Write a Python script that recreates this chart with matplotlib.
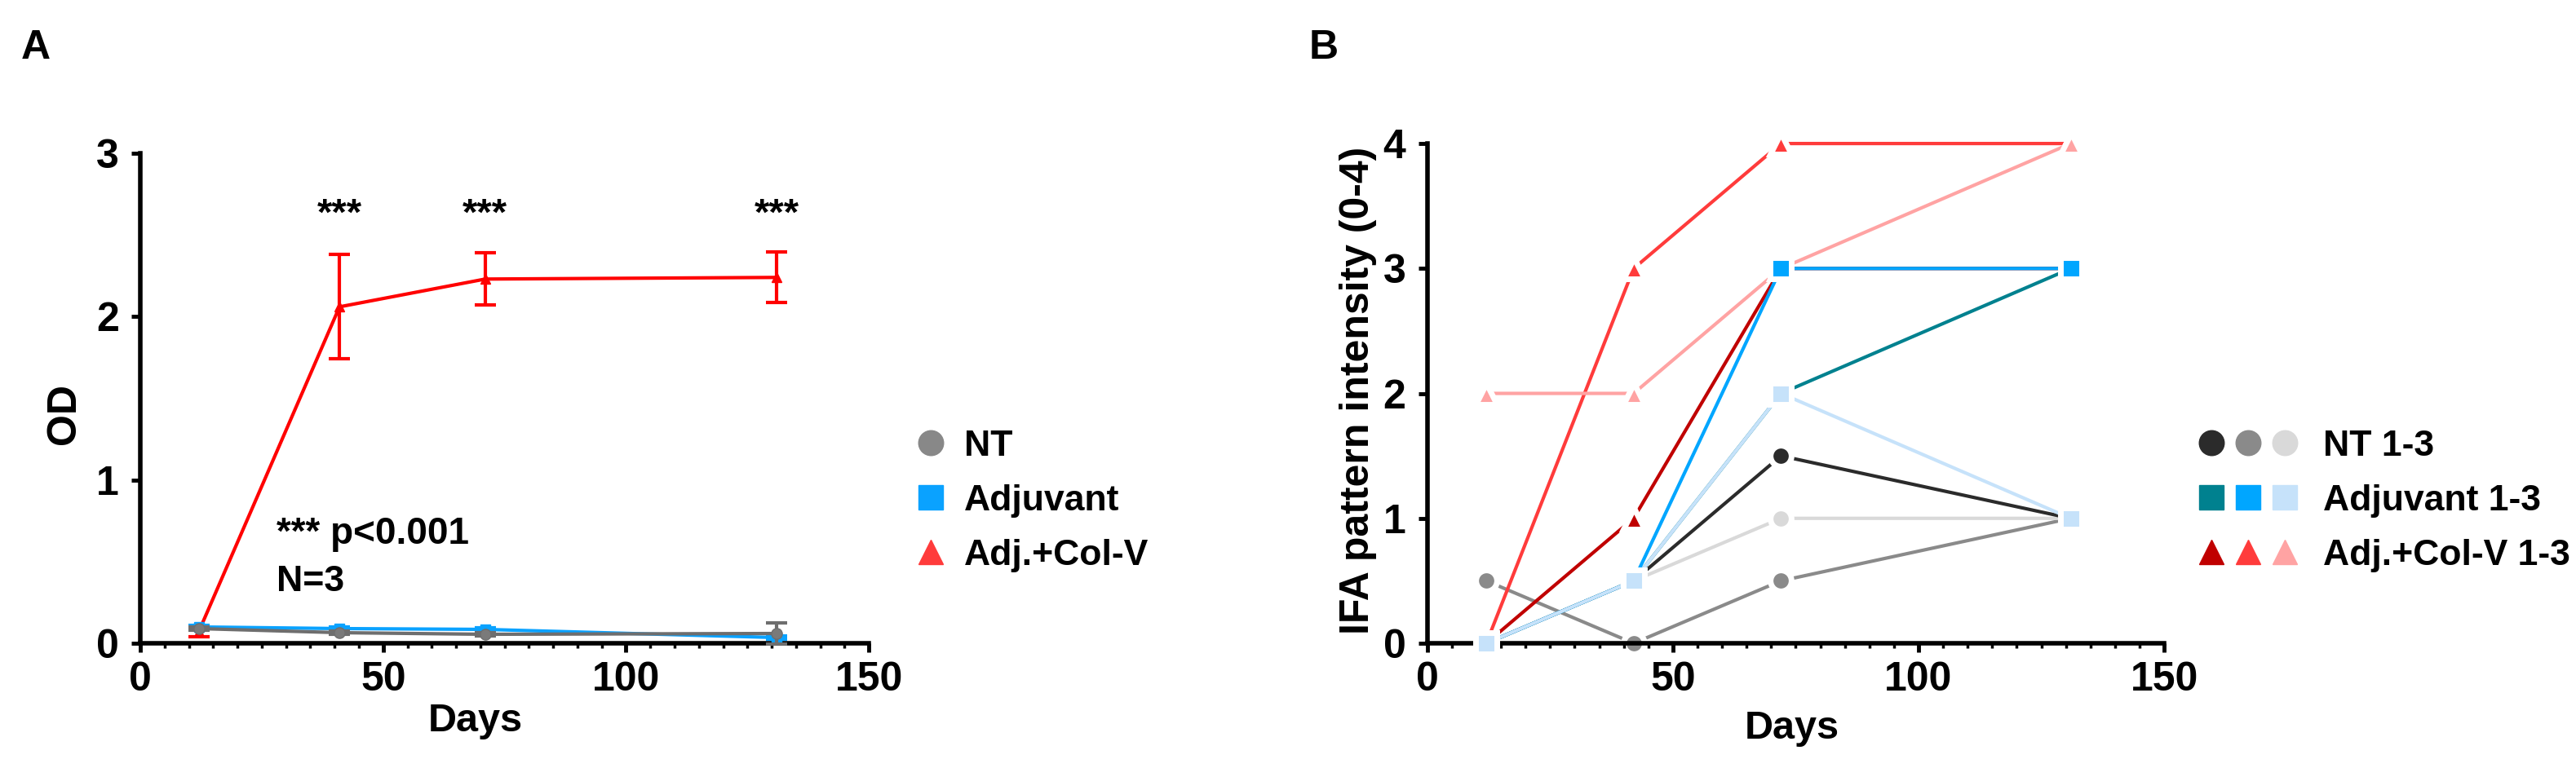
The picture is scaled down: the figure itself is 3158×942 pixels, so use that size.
import matplotlib
matplotlib.use('Agg')
import matplotlib.pyplot as plt
from matplotlib.lines import Line2D
from matplotlib.legend_handler import HandlerTuple
from matplotlib.ticker import MultipleLocator

plt.rcParams['font.family'] = ['Liberation Sans', 'DejaVu Sans']
plt.rcParams['font.weight'] = 'bold'

# ---- panel A: ELISA OD (mean +/- error) ----
days_a = [12, 41, 71, 131]
nt_mean = [0.09, 0.065, 0.055, 0.06]
nt_err = [0.01, 0.01, 0.01, 0.065]
adj_mean = [0.10, 0.09, 0.085, 0.035]
adj_err = [0.01, 0.01, 0.01, 0.01]
colv_mean = [0.07, 2.06, 2.23, 2.24]
colv_err = [0.03, 0.32, 0.16, 0.155]
star_days = [41, 71, 131]
star_y = [2.62, 2.62, 2.62]
labels_a = ['NT', 'Adjuvant', 'Adj.+Col-V']

# ---- panel B: IFA scores per animal ----
days_b = [12, 42, 72, 131]
nt_1 = [0, 0.5, 1.5, 1]
nt_2 = [0.5, 0, 0.5, 1]
nt_3 = [0, 0.5, 1, 1]
adj_1 = [0, 0.5, 2, 3]
adj_2 = [0, 0.5, 3, 3]
adj_3 = [0, 0.5, 2, 1]
colv_1 = [0, 1, 3, 3]
colv_2 = [0, 3, 4, 4]
colv_3 = [2, 2, 3, 4]
labels_b = ['NT 1-3', 'Adjuvant 1-3', 'Adj.+Col-V 1-3']

GRAY = '#6e6e6e'
BLUE = '#0aa2ff'
RED = '#ff0000'

fig = plt.figure(figsize=(31.58, 9.42), dpi=100)
axA = fig.add_axes([0.0545, 0.1624, 0.2828, 0.638])
axB = fig.add_axes([0.5541, 0.1624, 0.286, 0.6507])


def style_axis(ax, ymax):
    ax.set_xlim(0, 150)
    ax.set_ylim(0, ymax)
    for s in ['top', 'right']:
        ax.spines[s].set_visible(False)
    for s in ['left', 'bottom']:
        ax.spines[s].set_linewidth(4)
    ax.xaxis.set_major_locator(MultipleLocator(50))
    ax.xaxis.set_minor_locator(MultipleLocator(5))
    ax.yaxis.set_major_locator(MultipleLocator(1))
    ax.tick_params(axis='both', which='major', direction='out', length=8,
                   width=3.5, labelsize=36)
    ax.tick_params(axis='x', which='major', pad=8)
    ax.tick_params(axis='y', which='major', pad=11)
    ax.tick_params(axis='x', which='minor', direction='out', length=4.5, width=2.5)
    for t in ax.get_xticklabels() + ax.get_yticklabels():
        t.set_fontweight('bold')


# panel A
style_axis(axA, 3)
axA.errorbar(days_a, colv_mean, yerr=colv_err, color=RED, lw=3, marker='^', ms=8,
             capsize=9.5, capthick=3, elinewidth=3, clip_on=False, zorder=3)
axA.errorbar(days_a, adj_mean, yerr=adj_err, color=BLUE, lw=3, marker='s', ms=9,
             capsize=9.5, capthick=3, elinewidth=3, clip_on=False, zorder=4)
axA.errorbar(days_a, nt_mean, yerr=nt_err, color=GRAY, lw=3, marker='o', ms=9.5,
             mfc='#7a7a7a', capsize=9.5, capthick=3, elinewidth=3, clip_on=False, zorder=5)
for d, y in zip(star_days, star_y):
    axA.text(d, y, '***', ha='center', va='center', fontsize=34, fontweight='bold')
axA.text(28, 0.61, '*** p<0.001', ha='left', va='baseline', fontsize=33, fontweight='bold')
axA.text(28, 0.32, 'N=3', ha='left', va='baseline', fontsize=32, fontweight='bold')
axA.set_xlabel('Days', fontsize=35, fontweight='bold')
axA.set_ylabel('OD', fontsize=36, fontweight='bold')
axA.xaxis.set_label_coords(0.46, -0.121)
axA.yaxis.set_label_coords(-0.078, 0.468)

handles_a = [
    Line2D([], [], ls='none', marker='o', ms=22, color='#888888'),
    Line2D([], [], ls='none', marker='s', ms=21, color='#0aa2ff'),
    Line2D([], [], ls='none', marker='^', ms=22, color='#ff3b3b'),
]
fig.legend(handles_a, labels_a, loc='upper left', bbox_to_anchor=(0.3559, 0.4406),
           frameon=False, handlelength=0.75, handletextpad=0.55,
           labelspacing=0.58, borderpad=0, borderaxespad=0,
           prop={'weight': 'bold', 'size': 32})

# panel B
style_axis(axB, 4)
series_b = [
    (nt_2, 'o', '#8a8a8a', 1),
    (nt_3, 'o', '#d9d9d9', 1),
    (nt_1, 'o', '#2b2b2b', 2),
    (colv_2, '^', '#ff3b3b', 3),
    (colv_1, '^', '#c00000', 4),
    (colv_3, '^', '#ffa3a3', 5),
    (adj_1, 's', '#00818f', 6),
    (adj_2, 's', '#00a6ff', 7),
    (adj_3, 's', '#c6e2fa', 8),
]
for vals, mk, col, z in series_b:
    axB.plot(days_b, vals, color=col, lw=3, marker=mk, ms=18.5, mec='white', mew=5,
             mfc=col, clip_on=False, zorder=z)
axB.set_xlabel('Days', fontsize=35, fontweight='bold')
axB.set_ylabel('IFA pattern intensity (0-4)', fontsize=36, fontweight='bold')
axB.xaxis.set_label_coords(0.495, -0.134)
axB.yaxis.set_label_coords(-0.069, 0.506)

nt_cols = ['#2b2b2b', '#8a8a8a', '#d9d9d9']
adj_cols = ['#00818f', '#00a6ff', '#c6e2fa']
colv_cols = ['#c00000', '#ff3b3b', '#ffa3a3']
handles_b = [
    tuple(Line2D([], [], ls='none', marker='o', ms=22, color=c) for c in nt_cols),
    tuple(Line2D([], [], ls='none', marker='s', ms=21, color=c) for c in adj_cols),
    tuple(Line2D([], [], ls='none', marker='^', ms=22, color=c) for c in colv_cols),
]
fig.legend(handles_b, labels_b, loc='upper left', bbox_to_anchor=(0.8534, 0.4406),
           frameon=False, handlelength=2.75, handletextpad=0.7,
           labelspacing=0.58, borderpad=0, borderaxespad=0,
           prop={'weight': 'bold', 'size': 32},
           handler_map={tuple: HandlerTuple(ndivide=None, pad=0.27)})

fig.text(26 / 3158, 1 - 72 / 942, 'A', fontsize=36, fontweight='bold', va='baseline')
fig.text(1605 / 3158, 1 - 72 / 942, 'B', fontsize=36, fontweight='bold', va='baseline')

fig.savefig('out.png', dpi=100)
